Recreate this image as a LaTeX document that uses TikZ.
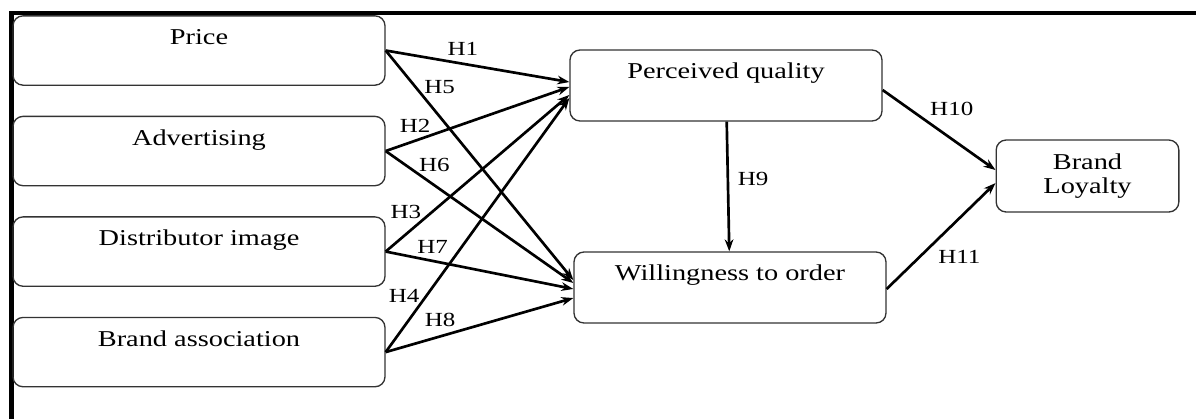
\documentclass[tikz,border=0pt]{standalone}
\usepackage{fontspec}
\setmainfont{Liberation Serif}[FakeStretch=1.25]
\usetikzlibrary{arrows.meta,positioning}

\begin{document}
\begin{tikzpicture}[x=0.75pt,y=-0.75pt,>={Stealth[length=9pt,width=6.5pt]},
  node distance=75.4pt,on grid,
  construct/.style={draw=black!80,line width=1pt,rounded corners=7.5pt,inner sep=0pt,font=\fontsize{17}{18}\selectfont},
  factor/.style={construct,minimum width=279pt,text height=21.5pt,text depth=30.5pt},
  outcome/.style={construct,minimum width=234pt,text height=21.5pt,text depth=31.75pt},
  hyp/.style={font=\fontsize{15}{18}\selectfont,inner sep=1pt},
  link/.style={->,line width=2pt}]
  \useasboundingbox (0,0) rectangle (1196,419);
  \draw[line width=3.4pt] (1196,13) -- (11.5,13) -- (11.5,419);

  \node[factor] (price) at (199,50.5) {Price};
  \node[factor] (advert) [below=of price] {Advertising};
  \node[factor] (distrib) [below=of advert] {Distributor image};
  \node[factor] (assoc) [below=of distrib] {Brand association};

  \node[outcome] (quality) at (726,85.5) {Perceived quality};
  \node[outcome] (willing) at (730,287.5) {Willingness to order};
  \node[construct,minimum width=137pt,minimum height=54pt,align=center] (loyal) at (1087.5,176) {Brand\\Loyalty};

  \path[link] (price.east) edge node[hyp,pos=.42,yshift=11pt] {H1} ([yshift=2.6pt]quality.west)
              (advert.east) edge node[hyp,pos=.16,yshift=11pt] {H2} ([yshift=-1.1pt]quality.west)
              (distrib.east) edge node[hyp,pos=.11,yshift=17pt] {H3} ([yshift=-7.1pt]quality.west)
              (assoc.east) edge node[hyp,pos=.22,xshift=-16.5pt] {H4} ([yshift=-9.4pt]quality.west)
              (price.east) edge node[hyp,pos=.16,xshift=18pt] {H5} ([yshift=5.6pt]willing.west)
              (advert.east) edge node[hyp,pos=.26,yshift=15pt] {H6} ([yshift=3.4pt]willing.west)
              (distrib.east) edge node[hyp,pos=.25,yshift=10.5pt] {H7} ([yshift=-1.1pt]willing.west)
              (assoc.east) edge node[hyp,pos=.29,yshift=12pt] {H8} ([yshift=-7.9pt]willing.west)
              (quality) edge node[hyp,pos=.44,xshift=19pt] {H9} (willing)
              ([yshift=-3.4pt]quality.east) edge node[hyp,pos=.24,xshift=31.5pt] {H10} ([yshift=4.5pt]loyal.west)
              ([yshift=-1.1pt]willing.east) edge node[hyp,pos=.30,xshift=30pt] {H11} ([yshift=-5.3pt]loyal.west);
\end{tikzpicture}
\end{document}
